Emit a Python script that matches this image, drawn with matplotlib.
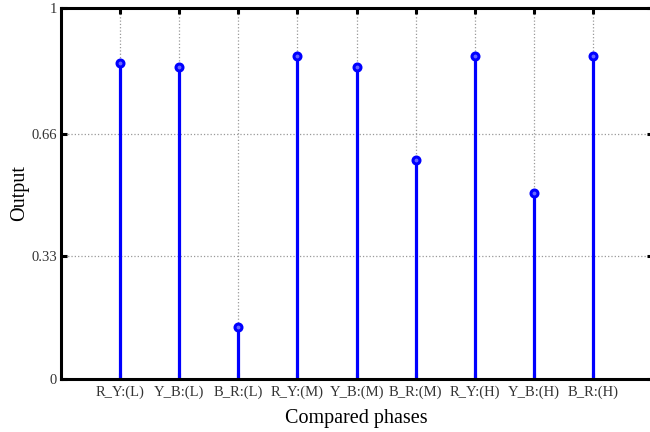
import matplotlib
matplotlib.use('Agg')
import matplotlib.pyplot as plt
import numpy as np

# Dane
phases = ['R_Y:(L)', 'Y_B:(L)', 'B_R:(L)', 'R_Y:(M)', 'Y_B:(M)',
          'B_R:(M)', 'R_Y:(H)', 'Y_B:(H)', 'B_R:(H)']
output = [0.850, 0.840, 0.139, 0.870, 0.841, 0.590, 0.870, 0.501, 0.870]
y_ticks = [0, 0.33, 0.66, 1]
y_tick_labels = ['0', '0.33', '0.66', '1']

plt.rcParams['font.family'] = ['Liberation Serif', 'DejaVu Serif']

fig = plt.figure(figsize=(6.5, 4.32), dpi=100)
ax = fig.add_axes([0.0931, 0.1227, 0.911, 0.8599])

x = np.arange(1, len(phases) + 1)
markers, stems, base = ax.stem(x, output, basefmt=' ')
plt.setp(stems, color='#0000ff', linewidth=2.3)
plt.setp(markers, color='#0000ff', marker='o', markersize=5,
         markerfacecolor='#6666ff', markeredgewidth=2.2)

ax.set_xlim(0, len(phases) + 1)
ax.set_ylim(0, 1)
ax.set_xticks(x)
ax.set_xticklabels(phases, fontsize=10.5, color='#333333')
ax.set_yticks(y_ticks)
ax.set_yticklabels(y_tick_labels, fontsize=10.5, color='#333333')

ax.grid(True, linestyle=':', color='#999999', linewidth=0.9)
ax.set_axisbelow(True)

ax.tick_params(direction='in', top=True, right=True, length=4, width=2.2)
ax.tick_params(axis='x', pad=5)
ax.tick_params(axis='y', pad=2.5)
for s in ax.spines.values():
    s.set_linewidth(2.2)

ax.set_xlabel('Compared phases', fontsize=14.5, labelpad=7)
ax.set_ylabel('Output', fontsize=14.5, labelpad=1.5)

fig.savefig('out.png', dpi=100)
